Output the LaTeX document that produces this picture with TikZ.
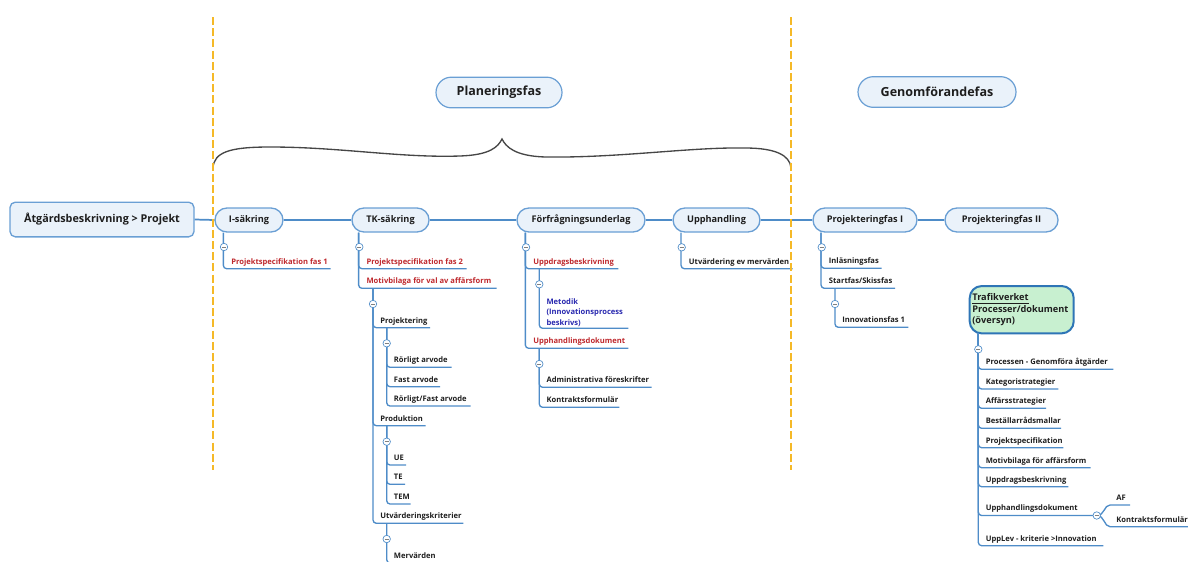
\documentclass[tikz,border=0pt]{standalone}
\usepackage{fontspec}
\setmainfont{Open Sans}
\usetikzlibrary{calc}

\definecolor{linec}{RGB}{78,140,200}
\definecolor{topicfill}{RGB}{234,242,250}
\definecolor{topicdraw}{RGB}{106,159,212}
\definecolor{redtxt}{RGB}{190,40,45}
\definecolor{bluetxt}{RGB}{40,40,175}
\definecolor{darktxt}{RGB}{30,30,30}
\definecolor{phase}{RGB}{245,185,40}
\definecolor{greenfill}{RGB}{200,240,208}
\definecolor{greendraw}{RGB}{46,117,182}
\definecolor{bracec}{RGB}{70,70,70}

% a leaf: name, text x, underline y, underline end x, style, text
\newcommand\mleaf[6]{%
  \node[leaf,#5,anchor=base west] (#1) at (#2,#3-4.7) {#6};
  \coordinate (#1-u) at (#4,#3);}

\begin{document}
\begin{tikzpicture}[x=0.75pt,y=-0.75pt,
  every node/.style={font=\bfseries},
  rootbox/.style={draw=topicdraw,fill=topicfill,line width=1pt,rounded corners=4pt,
    minimum width=138pt,minimum height=26pt,inner sep=0pt,font=\bfseries\fontsize{8.1}{9}\selectfont,text=darktxt},
  topic/.style={draw=topicdraw,fill=topicfill,line width=1pt,rounded corners=9pt,
    minimum height=18pt,inner sep=0pt,font=\bfseries\fontsize{6.9}{8}\selectfont,text=darktxt},
  phasebox/.style={draw=topicdraw,fill=topicfill,line width=0.9pt,rounded corners=11.5pt,
    minimum height=23pt,inner sep=0pt,font=\bfseries\fontsize{9.4}{11}\selectfont,text=darktxt},
  leaf/.style={inner sep=0pt,font=\bfseries\fontsize{5.7}{6.8}\selectfont,text=darktxt},
  red/.style={text=redtxt},
  blu/.style={text=bluetxt},
  branch/.style={draw=linec,line width=1pt,rounded corners=2.5pt},
  mainline/.style={draw=linec,line width=1.3pt},
  fold/.style={circle,draw=linec,fill=white,line width=0.5pt,minimum size=5.6pt,inner sep=0pt,
    path picture={\draw[gray,line width=0.5pt]
      ([xshift=-1.6pt]path picture bounding box.center)--([xshift=1.6pt]path picture bounding box.center);}},
  phaseline/.style={draw=phase,line width=2pt,dash pattern=on 6pt off 2.4pt},
  bracepath/.style={draw=bracec,line width=1pt}
]
\useasboundingbox (0,0) rectangle (1188,561);

% brace over the planning phase
\draw[bracepath] (213,168) .. controls (214,152) and (230,147) .. (270,147)
  .. controls (340,147) and (400,158) .. (460,156)
  .. controls (490,155) and (498,147) .. (502,139)
  .. controls (506,147) and (515,156) .. (545,157)
  .. controls (620,158) and (690,147) .. (745,148)
  .. controls (775,148) and (790,155) .. (791,168);

% phase titles
\node[phasebox,minimum width=94.5pt] (P1) at (499,92.5) {Planeringsfas};
\node[phasebox,minimum width=118.5pt] (P2) at (937,92) {Genomförandefas};

% main row
\node[rootbox] (R) at (102,219.5) {Åtgärdsbeskrivning > Projekt};
\node[topic,minimum width=51pt] (T1) at (249,220) {I-säkring};
\node[topic,minimum width=57.8pt] (T2) at (390.5,220) {TK-säkring};
\node[topic,minimum width=96pt] (T3) at (581,220) {Förfrågningsunderlag};
\node[topic,minimum width=65.2pt] (T4) at (716.5,220) {Upphandling};
\node[topic,minimum width=78pt] (T5) at (865,220) {Projekteringfas I};
\node[topic,minimum width=84.8pt] (T6) at (1001.5,220) {Projekteringfas II};

\draw[mainline] (R.east) -- (T1.west);
\draw[mainline] (T1.east) -- (T2.west);
\draw[mainline] (T2.east) -- (T3.west);
\draw[mainline] (T3.east) -- (T4.west);
\draw[mainline] (T4.east) -- (T5.west);
\draw[mainline] (T5.east) -- (T6.west);

% trunk start points
\coordinate (T1-d) at ($(T1.south west)+(9,0)$);
\coordinate (T2-d) at ($(T2.south west)+(7.3,0)$);
\coordinate (T3-d) at ($(T3.south west)+(9,0)$);
\coordinate (T4-d) at ($(T4.south west)+(8.7,0)$);
\coordinate (T5-d) at ($(T5.south west)+(8.7,0)$);

% I-säkring
\mleaf{a1}{231}{268.7}{330.7}{red}{Projektspecifikation fas 1}
% TK-säkring
\mleaf{b1}{366.3}{268.7}{466.7}{red}{Projektspecifikation fas 2}
\mleaf{b2}{366.3}{288.3}{496.7}{red}{Motivbilaga för val av affärsform}
\coordinate (b2-d) at (373,288.3);
\mleaf{c1}{380}{327.7}{430}{}{Projektering}
\mleaf{c2}{380}{425.7}{425.7}{}{Produktion}
\mleaf{c3}{380}{523.3}{463.3}{}{Utvärderingskriterier}
\coordinate (c1-d) at (386.7,327.7);
\coordinate (c2-d) at (386.7,425.7);
\coordinate (c3-d) at (386.7,523.3);
\mleaf{d1}{393.7}{367.3}{451.7}{}{Rörligt arvode}
\mleaf{d2}{393.7}{386.7}{440}{}{Fast arvode}
\mleaf{d3}{393.7}{406}{470.7}{}{Rörligt/Fast arvode}
\mleaf{e1}{393.7}{465}{406}{}{UE}
\mleaf{e2}{393.7}{484.3}{405}{}{TE}
\mleaf{e3}{393.7}{504}{410.7}{}{TEM}
\mleaf{f1}{393.7}{563}{450}{}{Mervärden}
% Förfrågningsunderlag
\mleaf{g1}{533}{268.7}{618.3}{red}{Uppdragsbeskrivning}
\mleaf{g2}{533}{348.3}{628.3}{red}{Upphandlingsdokument}
\coordinate (g1-d) at (539.3,268.7);
\coordinate (g2-d) at (539.3,348.3);
\node[leaf,blu,align=left,anchor=south west,font=\bfseries\fontsize{5.7}{7.7}\selectfont] (h1) at (546.3,326.5)
  {Metodik\\(Innovationsprocess\\beskrivs)};
\coordinate (h1-u) at (628.3,328.3);
\mleaf{i1}{546.3}{387.3}{651.7}{}{Administrativa föreskrifter}
\mleaf{i2}{546.3}{407.3}{619.3}{}{Kontraktsformulär}
% Upphandling
\mleaf{j1}{688.7}{268.7}{792.7}{}{Utvärdering ev mervärden}
% Projekteringfas I
\mleaf{k1}{828.7}{268.3}{881.7}{}{Inläsningsfas}
\mleaf{k2}{828.7}{288.3}{895}{}{Startfas/Skissfas}
\coordinate (k2-d) at (835,288.3);
\mleaf{l1}{842}{327.3}{908.3}{}{Innovationsfas 1}

% Trafikverket overview
\node[draw=greendraw,fill=greenfill,line width=1.5pt,rounded corners=9pt,
  minimum height=35.5pt,text width=74pt,inner xsep=2pt,inner ysep=0pt,align=left,
  font=\bfseries\fontsize{6.9}{8.4}\selectfont,text=darktxt] (TV) at (1021.7,309.7)
  {\underline{Trafikverket}\\Processer/dokument\\(översyn)};
\coordinate (TV-d) at (978.3,333.3);
\mleaf{m1}{985.5}{369.3}{1113.3}{}{Processen - Genomföra åtgärder}
\mleaf{m2}{985.5}{389}{1058.3}{}{Kategoristrategier}
\mleaf{m3}{985.5}{408.3}{1046}{}{Affärsstrategier}
\mleaf{m4}{985.5}{428.3}{1061}{}{Beställarrådsmallar}
\mleaf{m5}{985.5}{447.7}{1063.3}{}{Projektspecifikation}
\mleaf{m6}{985.5}{467.7}{1090.7}{}{Motivbilaga för affärsform}
\mleaf{m7}{985.5}{486.7}{1068.3}{}{Uppdragsbeskrivning}
\mleaf{m8}{985.5}{515.5}{1096.7}{}{Upphandlingsdokument}
\mleaf{m9}{985.5}{545.7}{1103.3}{}{UppLev - kriterie >Innovation}
\mleaf{n1}{1116}{505}{1130}{}{AF}
\mleaf{n2}{1116}{526.7}{1192}{}{Kontraktsformulär}
\coordinate (n1-s) at (1110,505);
\coordinate (n2-s) at (1110,526.7);

% branch connectors
\draw[branch] (T1-d) |- (a1-u);
\foreach \c in {b1,b2} \draw[branch] (T2-d) |- (\c-u);
\foreach \c in {c1,c2,c3} \draw[branch] (b2-d) |- (\c-u);
\foreach \c in {d1,d2,d3} \draw[branch] (c1-d) |- (\c-u);
\foreach \c in {e1,e2,e3} \draw[branch] (c2-d) |- (\c-u);
\draw[branch] (c3-d) |- (f1-u);
\foreach \c in {g1,g2} \draw[branch] (T3-d) |- (\c-u);
\draw[branch] (g1-d) |- (h1-u);
\foreach \c in {i1,i2} \draw[branch] (g2-d) |- (\c-u);
\draw[branch] (T4-d) |- (j1-u);
\foreach \c in {k1,k2} \draw[branch] (T5-d) |- (\c-u);
\draw[branch] (k2-d) |- (l1-u);
\foreach \c in {m1,m2,m3,m4,m5,m6,m7,m8,m9} \draw[branch] (TV-d) |- (\c-u);
\draw[branch,rounded corners=0pt] (m8-u) .. controls +(8,0) and +(-6,0) .. (n1-s) -- (n1-u);
\draw[branch,rounded corners=0pt] (m8-u) .. controls +(8,0) and +(-6,0) .. (n2-s) -- (n2-u);

% collapse markers
\foreach \p in {(224,247),(359.3,247),(373,304),(386.7,343.3),(386.7,441.7),(386.7,539),
  (526,247.3),(539.3,284.3),(539.3,364),(681.7,247.3),(821.7,247.3),(835,304),
  (978.3,349.3)}
  \node[fold] at \p {};
\node[fold] (m8f) at (m8-u) {};

% phase boundaries
\draw[phaseline] (213,17) -- (213,470);
\draw[phaseline] (791,17) -- (791,470);
\end{tikzpicture}
\end{document}
